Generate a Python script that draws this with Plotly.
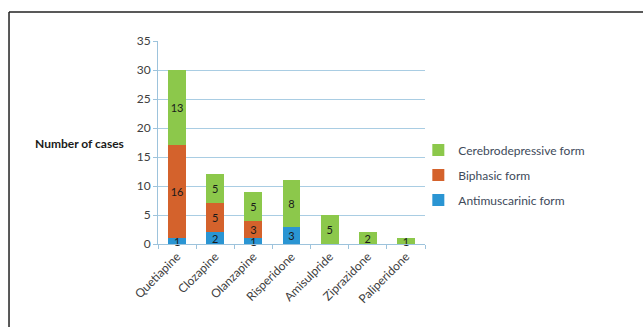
import plotly.graph_objects as go

drugs = ["Quetiapine", "Clozapine", "Olanzapine", "Risperidone", "Amisulpride", "Ziprazidone", "Paliperidone"]
antimuscarinic = [1, 2, 1, 3, 0, 0, 0]
biphasic = [16, 5, 3, 0, 0, 0, 0]
cerebrodepressive = [13, 5, 5, 8, 5, 2, 1]
y_ticks = [0, 5, 10, 15, 20, 25, 30, 35]

def labels(vals):
    return [str(v) if v else "" for v in vals]

FONT = "Lato"
fig = go.Figure()
series = [
    ("Antimuscarinic form", antimuscarinic, "#2a95d3"),
    ("Biphasic form", biphasic, "#d4622c"),
    ("Cerebrodepressive form", cerebrodepressive, "#8cc84b"),
]
for i, (name, vals, col) in enumerate(series):
    fig.add_trace(go.Bar(
        x=drugs, y=vals, name=name, marker=dict(color=col, line=dict(width=0)),
        text=labels(vals), textposition="inside", insidetextanchor="middle", textangle=0,
        constraintext="none", textfont=dict(color="#1a1a1a", size=11, family=FONT),
        legendgroup=str(i), legendrank=1000 - i, cliponaxis=False,
    ))

fig.update_layout(
    width=643, height=327, barmode="stack", bargap=0.53,
    margin=dict(l=158, r=218, t=41, b=83),
    paper_bgcolor="white", plot_bgcolor="white",
    font=dict(family=FONT, color="#404040", size=11),
    showlegend=True,
    legend=dict(x=0.975, y=0.535, xanchor="left", yanchor="top", traceorder="grouped",
                tracegroupgap=6, font=dict(size=12, color="#404a5a", family=FONT),
                itemwidth=30, bgcolor="rgba(0,0,0,0)"),
    xaxis=dict(showgrid=False, showline=True, linecolor="#9dc3dc", linewidth=1,
               ticks="outside", ticklen=4, tickcolor="#9dc3dc", tickangle=-45,
               tickson="boundaries", tickfont=dict(size=12, color="#404040")),
    yaxis=dict(range=[0, 35], tickvals=y_ticks, showgrid=True, gridcolor="#a9cde3", gridwidth=1,
               showline=True, linecolor="#9dc3dc", ticks="outside", ticklen=4, tickcolor="#9dc3dc",
               zeroline=False, tickfont=dict(size=12, color="#404040")),
    annotations=[dict(text="<b>Number of cases</b>", xref="paper", yref="paper",
                      x=-0.12, y=0.493, xanchor="right", yanchor="middle", showarrow=False,
                      font=dict(size=12, color="#1a1a1a", family=FONT))],
    shapes=[
        dict(type="line", xref="paper", yref="paper", x0=-0.558, x1=1.85, y0=1.143, y1=1.143,
             line=dict(color="#222222", width=1.5)),
        dict(type="line", xref="paper", yref="paper", x0=-0.558, x1=-0.558, y0=1.143, y1=-0.45,
             line=dict(color="#222222", width=1.5)),
    ],
)
fig.write_html("out.html")
